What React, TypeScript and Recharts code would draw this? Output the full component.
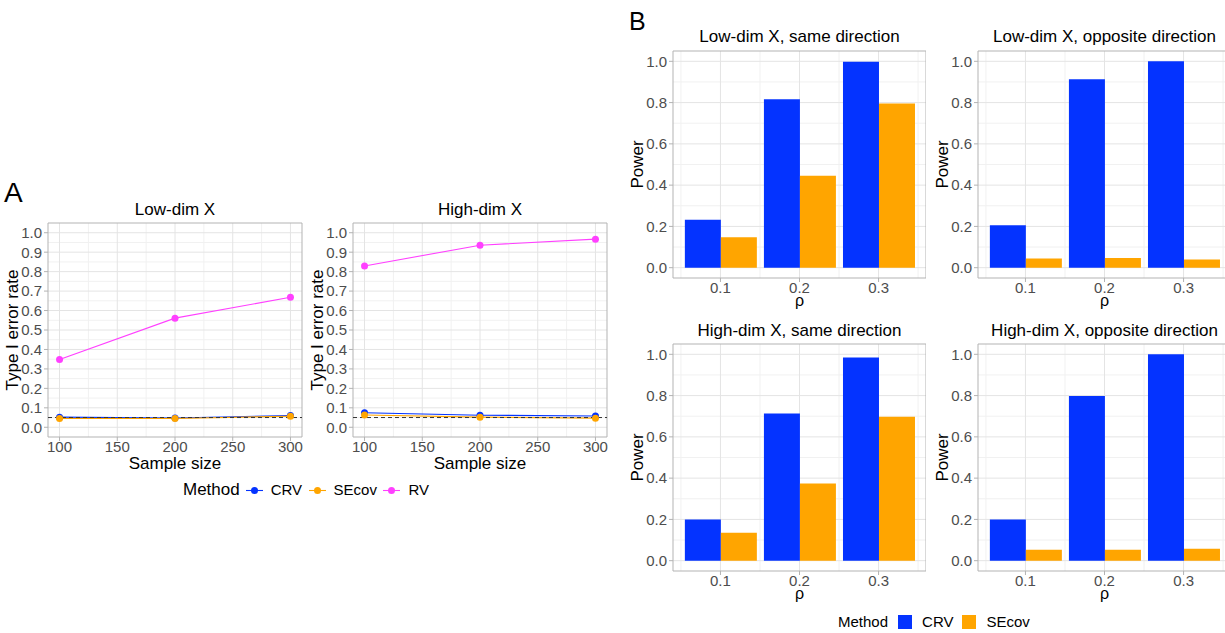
import React from "react";
import {
  LineChart,
  Line,
  BarChart,
  Bar,
  XAxis,
  YAxis,
  CartesianGrid,
  ReferenceLine,
  ReferenceArea,
  Label,
} from "recharts";

// Panel A: type I error rate vs sample size
const sampleSizes = [100, 200, 300];
const lowDimCRV = [0.052, 0.048, 0.06];
const lowDimSEcov = [0.045, 0.045, 0.057];
const lowDimRV = [0.348, 0.561, 0.668];
const highDimCRV = [0.075, 0.062, 0.058];
const highDimSEcov = [0.063, 0.052, 0.047];
const highDimRV = [0.829, 0.936, 0.967];

const sampleTicks = [100, 150, 200, 250, 300];
const sampleMinor = [125, 175, 225, 275];
const errorTicks = [0, 0.1, 0.2, 0.3, 0.4, 0.5, 0.6, 0.7, 0.8, 0.9, 1.0];
const errorMinor = [0.05, 0.15, 0.25, 0.35, 0.45, 0.55, 0.65, 0.75, 0.85, 0.95];

// Panel B: power vs rho
const rhoLevels = [0.1, 0.2, 0.3];
const rhoMinor = [0.05, 0.15, 0.25, 0.35];
const lowSameCRV = [0.232, 0.816, 0.998];
const lowSameSEcov = [0.147, 0.446, 0.796];
const lowOppCRV = [0.206, 0.913, 1.0];
const lowOppSEcov = [0.044, 0.047, 0.04];
const highSameCRV = [0.199, 0.713, 0.984];
const highSameSEcov = [0.135, 0.374, 0.698];
const highOppCRV = [0.199, 0.798, 1.0];
const highOppSEcov = [0.053, 0.053, 0.058];

const powerTicks = [0, 0.2, 0.4, 0.6, 0.8, 1.0];
const powerMinor = [0.1, 0.3, 0.5, 0.7, 0.9];

const lineMethods = ["CRV", "SEcov", "RV"];
const barMethods = ["CRV", "SEcov"];
const colors: Record<string, string> = { CRV: "#0433FF", SEcov: "#FFA500", RV: "#FF40FF" };

const FONT = '"Liberation Sans", Arial, Helvetica, sans-serif';
const tickStyle = { fill: "#4D4D4D", fontSize: 15 };
const tickLine = { stroke: "#B3B3B3" };

const toLineRows = (crv: number[], se: number[], rv: number[]) =>
  sampleSizes.map((n, i) => ({ n, CRV: crv[i], SEcov: se[i], RV: rv[i] }));
const toBarRows = (crv: number[], se: number[]) =>
  rhoLevels.map((rho, i) => ({ rho, CRV: crv[i], SEcov: se[i] }));

const yTitle = (text: string) => (props: any) => {
  const vb = props.viewBox;
  const cx = vb.x + vb.width - 35.5;
  const cy = vb.y + vb.height / 2;
  return (
    <text x={cx} y={cy} transform={`rotate(-90 ${cx} ${cy})`} textAnchor="middle"
      dominantBaseline="central" fontSize={17} fill="#000">{text}</text>
  );
};

const xTitle = (text: string, dy: number, size = 17) => (props: any) => {
  const vb = props.viewBox;
  return (
    <text x={vb.x + vb.width / 2} y={vb.y + dy} textAnchor="middle" fontSize={size} fill="#000">{text}</text>
  );
};

function Title({ text, left, width, top }: { text: string; left: number; width: number; top: number }) {
  return (
    <div style={{ position: "absolute", left, top, width, textAlign: "center", fontSize: 17,
      lineHeight: "20px", whiteSpace: "nowrap", zIndex: 2 }}>{text}</div>
  );
}

function LinePanel({ left, title, rows }: { left: number; title: string; rows: any[] }) {
  return (
    <div style={{ position: "absolute", left, top: 200 }}>
      <Title text={title} left={48} width={254} top={0} />
      <LineChart width={306} height={277} data={rows} margin={{ top: 23, right: 4, bottom: 0, left: 0 }}>
        <CartesianGrid horizontalValues={errorMinor} verticalValues={sampleMinor} stroke="#F1F1F1" />
        <CartesianGrid horizontalValues={errorTicks} verticalValues={sampleTicks} stroke="#E4E4E4" />
        <XAxis type="number" dataKey="n" domain={[90, 310]} ticks={sampleTicks} height={40} interval={0}
          axisLine={false} tickLine={tickLine} tickSize={4} tickMargin={0} tick={tickStyle}>
          <Label content={xTitle("Sample size", 32)} />
        </XAxis>
        <YAxis type="number" domain={[-0.05, 1.05]} ticks={errorTicks} width={48} axisLine={false}
          interval={0} tickLine={tickLine} tickSize={4} tickMargin={2} tick={tickStyle}
          tickFormatter={(v: number) => v.toFixed(1)}>
          <Label content={yTitle("Type I error rate")} />
        </YAxis>
        <ReferenceArea y1={-0.05} y2={1.05} fill="none" stroke="#B3B3B3" />
        {lineMethods.map((m) => (
          <Line key={m} dataKey={m} stroke={colors[m]} strokeWidth={1.1}
            dot={{ r: 3.5, fill: colors[m], stroke: colors[m], strokeWidth: 0 }}
            activeDot={false} isAnimationActive={false} />
        ))}
        <ReferenceLine y={0.05} stroke="#333" strokeDasharray="4 3" />
      </LineChart>
    </div>
  );
}

function BarPanel({ left, top, title, rows }: { left: number; top: number; title: string; rows: any[] }) {
  return (
    <div style={{ position: "absolute", left, top }}>
      <Title text={title} left={48} width={253} top={top === 0 ? 27 : 28} />
      <BarChart width={301} height={312} data={rows} margin={{ top: 51, right: 0, bottom: 0, left: 0 }}
        barCategoryGap="5%" barGap={0}>
        <CartesianGrid horizontalValues={powerMinor} verticalValues={rhoMinor} stroke="#F1F1F1" />
        <CartesianGrid horizontalValues={powerTicks} verticalValues={rhoLevels} stroke="#E4E4E4" />
        <XAxis type="number" dataKey="rho" domain={[0.04, 0.36]} ticks={rhoLevels} height={34} interval={0}
          axisLine={false} tickLine={tickLine} tickSize={4} tickMargin={0} tick={tickStyle}
          tickFormatter={(v: number) => v.toFixed(1)}>
          <Label content={xTitle("ρ", 27.5, 16)} />
        </XAxis>
        <YAxis type="number" domain={[-0.05, 1.05]} ticks={powerTicks} width={48} axisLine={false}
          interval={0} tickLine={tickLine} tickSize={4} tickMargin={2} tick={tickStyle}
          tickFormatter={(v: number) => v.toFixed(1)}>
          <Label content={yTitle("Power")} />
        </YAxis>
        <ReferenceArea y1={-0.05} y2={1.05} fill="none" stroke="#B3B3B3" />
        {barMethods.map((m) => (
          <Bar key={m} dataKey={m} fill={colors[m]} isAnimationActive={false} />
        ))}
      </BarChart>
    </div>
  );
}

function LineKey({ color }: { color: string }) {
  return (
    <svg width={17} height={17}>
      <line x1={0} x2={17} y1={8.5} y2={8.5} stroke={color} strokeWidth={1.1} />
      <circle cx={8.5} cy={8.5} r={3.5} fill={color} />
    </svg>
  );
}

export default function App() {
  return (
    <div style={{ position: "absolute", left: 0, top: 0, width: 1225, height: 633, overflow: "hidden",
      background: "#fff", fontFamily: FONT, color: "#000" }}>
      <div style={{ position: "absolute", left: 4, top: 179, fontSize: 28, lineHeight: "28px" }}>A</div>
      <div style={{ position: "absolute", left: 629, top: 9, fontSize: 25, lineHeight: "25px" }}>B</div>

      <LinePanel left={0} title="Low-dim X" rows={toLineRows(lowDimCRV, lowDimSEcov, lowDimRV)} />
      <LinePanel left={305} title="High-dim X" rows={toLineRows(highDimCRV, highDimSEcov, highDimRV)} />

      <div style={{ position: "absolute", left: 183, top: 480, height: 20, display: "flex", alignItems: "center",
        lineHeight: "20px" }}>
        <span style={{ fontSize: 17, marginRight: 6 }}>Method</span>
        {lineMethods.map((m) => (
          <React.Fragment key={m}>
            <LineKey color={colors[m]} />
            <span style={{ fontSize: 15, marginLeft: 8, marginRight: 6.5 }}>{m}</span>
          </React.Fragment>
        ))}
      </div>

      <BarPanel left={625} top={0} title="Low-dim X, same direction" rows={toBarRows(lowSameCRV, lowSameSEcov)} />
      <BarPanel left={930} top={0} title="Low-dim X, opposite direction" rows={toBarRows(lowOppCRV, lowOppSEcov)} />
      <BarPanel left={625} top={293} title="High-dim X, same direction" rows={toBarRows(highSameCRV, highSameSEcov)} />
      <BarPanel left={930} top={293} title="High-dim X, opposite direction" rows={toBarRows(highOppCRV, highOppSEcov)} />

      <div style={{ position: "absolute", left: 838, top: 612, height: 20, display: "flex", alignItems: "center",
        lineHeight: "20px" }}>
        <span style={{ fontSize: 15, marginRight: 10 }}>Method</span>
        {barMethods.map((m) => (
          <React.Fragment key={m}>
            <span style={{ width: 14, height: 14, background: colors[m], display: "inline-block" }} />
            <span style={{ fontSize: 15, marginLeft: 10, marginRight: 9 }}>{m}</span>
          </React.Fragment>
        ))}
      </div>
    </div>
  );
}
